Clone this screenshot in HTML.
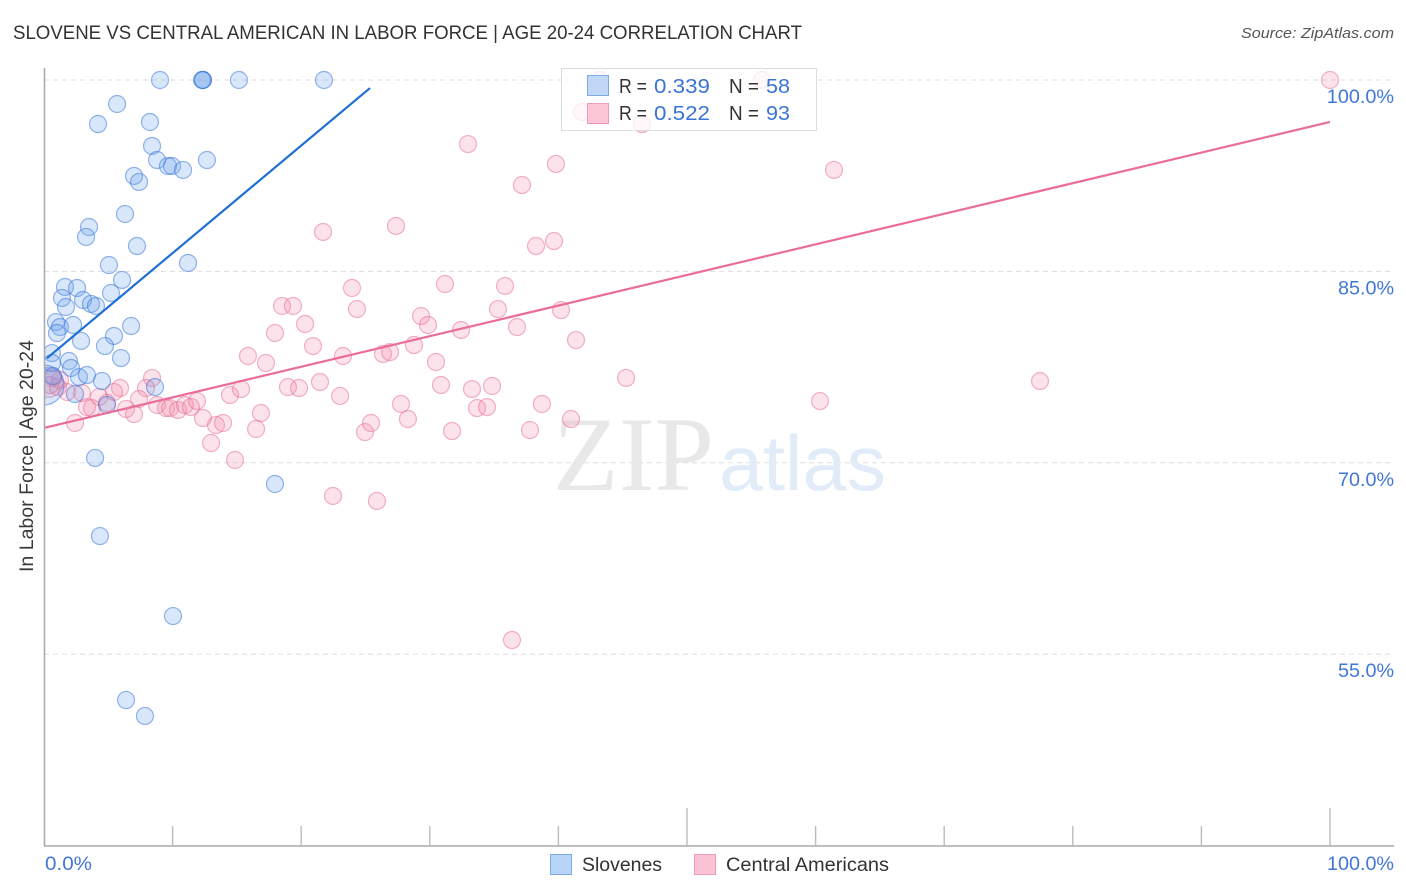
<!DOCTYPE html>
<html lang="en">
<head>
<meta charset="utf-8">
<title>Slovene vs Central American in Labor Force | Age 20-24 Correlation Chart</title>
<style>
html,body{margin:0;padding:0;background:#fff;width:1406px;height:892px;overflow:hidden}
svg{display:block;font-family:"Liberation Sans",sans-serif}
</style>
</head>
<body>
<svg id="chart" xmlns="http://www.w3.org/2000/svg" width="1406" height="892" viewBox="0 0 1406 892">
  <defs>
    <clipPath id="plot-clip"><rect x="45" y="0" width="1349" height="846"/></clipPath>
  </defs>
  <rect width="1406" height="892" fill="#ffffff"/>
  <text x="13" y="39" font-size="19.5" fill="#333333" textLength="789" lengthAdjust="spacingAndGlyphs">SLOVENE VS CENTRAL AMERICAN IN LABOR FORCE | AGE 20-24 CORRELATION CHART</text>
  <text x="1394" y="38" font-size="15" font-style="italic" fill="#555" text-anchor="end" textLength="153" lengthAdjust="spacingAndGlyphs">Source: ZipAtlas.com</text>
  <g id="grid"></g>
  <g>
    <text x="553" y="490" font-family="'Liberation Serif',serif" font-size="106" fill="#e8e8e8" textLength="161" lengthAdjust="spacingAndGlyphs">ZIP</text>
    <text x="719" y="490" font-size="78" fill="#e2ecf9" textLength="167" lengthAdjust="spacingAndGlyphs">atlas</text>
  </g>
  <g id="pink-points" clip-path="url(#plot-clip)"></g>
  <g id="blue-points" clip-path="url(#plot-clip)"></g>
  <g id="trends"></g>
  <g id="axes"></g>
  <text transform="translate(33,572) rotate(-90)" font-size="19" fill="#3a3a3a" textLength="232" lengthAdjust="spacingAndGlyphs">In Labor Force | Age 20-24</text>

  <g>
    <rect x="561.5" y="68.5" width="255" height="62" fill="#ffffff" fill-opacity="0.75" stroke="#dddddd" stroke-width="1"/>
    <rect x="587.5" y="75.5" width="21" height="20" fill="#b5d1f5" fill-opacity="0.85" stroke="#7eaae6"/>
    <rect x="587.5" y="103.5" width="21" height="20" fill="#fcc0d2" fill-opacity="0.9" stroke="#f09ab5"/>
    <g font-size="20.5">
      <text x="619" y="93" fill="#333333" textLength="28" lengthAdjust="spacingAndGlyphs">R =</text>
      <text x="654" y="93" fill="#3a74d4" textLength="56" lengthAdjust="spacingAndGlyphs">0.339</text>
      <text x="729" y="93" fill="#333333" textLength="30" lengthAdjust="spacingAndGlyphs">N =</text>
      <text x="766" y="93" fill="#3a74d4" textLength="24" lengthAdjust="spacingAndGlyphs">58</text>
      <text x="619" y="120" fill="#333333" textLength="28" lengthAdjust="spacingAndGlyphs">R =</text>
      <text x="654" y="120" fill="#3a74d4" textLength="56" lengthAdjust="spacingAndGlyphs">0.522</text>
      <text x="729" y="120" fill="#333333" textLength="30" lengthAdjust="spacingAndGlyphs">N =</text>
      <text x="766" y="120" fill="#3a74d4" textLength="24" lengthAdjust="spacingAndGlyphs">93</text>
    </g>
  </g>

  <g>
    <rect x="550.5" y="854.5" width="21" height="20" fill="#b8d5f7" stroke="#7eaae6"/>
    <text x="582" y="871" font-size="19.5" fill="#333333" textLength="80" lengthAdjust="spacingAndGlyphs">Slovenes</text>
    <rect x="694.5" y="854.5" width="21" height="20" fill="#fcc3d5" stroke="#f09ab5"/>
    <text x="726" y="871" font-size="19.5" fill="#333333" textLength="163" lengthAdjust="spacingAndGlyphs">Central Americans</text>
  </g>
</svg>
<script>
const xTickValues = [0, 10, 20, 30, 40, 50, 60, 70, 80, 90, 100];
const xMajorTickValues = [50, 100];
const yTickValues = [100, 85, 70, 55];
const yTickLabels = ["100.0%", "85.0%", "70.0%", "55.0%"];
const xEdgeLabels = ["0.0%", "100.0%"];

const slovenesX = [9.02,12.36,12.36,12.29,15.16,21.77,5.68,4.20,8.24,8.40,8.79,9.64,9.95,10.81,12.67,7.00,7.39,6.30,3.50,3.27,7.23,5.05,11.20,6.07,1.63,2.57,5.21,1.40,3.03,3.65,4.04,1.71,0.93,1.24,2.26,1.01,2.88,6.77,5.44,4.74,5.99,0.62,0.62,1.94,2.10,2.72,3.34,4.51,0.70,2.41,4.90,8.63,3.97,17.96,4.35,10.03,6.38,7.85];
const slovenesY = [100,100,100,100,100,100,98.12,96.55,96.71,94.83,93.73,93.26,93.26,92.95,93.73,92.48,92.01,89.50,88.48,87.70,86.99,85.50,85.66,84.33,83.78,83.70,83.31,82.92,82.76,82.45,82.29,82.21,81.03,80.64,80.80,80.17,79.55,80.72,79.94,79.15,78.21,78.60,77.82,77.98,77.43,76.72,76.88,76.41,76.80,75.39,74.53,75.94,70.38,68.34,64.26,57.99,51.41,50.16];
const slovenesClusterX = [0];
const slovenesClusterY = [76.1];

const centralX = [43.23,55.83,41.84,46.50,8.40,5.91,5.44,7.93,7.39,4.28,3.34,3.73,4.90,6.38,7.00,2.41,8.79,9.49,9.80,10.42,10.96,11.43,11.90,12.36,13.37,13.92,12.99,14.85,14.46,15.32,16.87,16.49,15.86,17.26,17.96,18.97,19.83,18.51,19.36,20.30,20.92,21.46,23.02,22.47,23.95,24.34,23.25,24.96,25.43,26.36,26.91,25.89,27.37,21.70,27.76,28.30,28.77,29.32,29.86,30.48,30.87,31.18,31.73,32.43,32.97,33.28,33.67,34.45,34.84,35.30,35.85,36.78,37.17,37.79,38.26,38.72,39.66,39.81,40.20,40.98,41.37,36.39,45.26,60.34,61.43,77.45,100,0.47,1.09,1.79,0.70,2.95,1.24];
const centralY = [100,100,97.49,96.55,76.65,75.86,75.55,75.86,75.00,75.16,74.37,74.29,74.69,74.22,73.82,73.12,74.53,74.29,74.29,74.14,74.53,74.37,74.84,73.51,72.96,73.12,71.55,70.22,75.31,75.78,73.90,72.65,78.37,77.82,80.17,75.94,75.86,82.29,82.29,80.88,79.15,76.33,75.24,67.40,83.70,82.05,78.37,72.41,73.12,78.53,78.68,67.01,88.56,88.09,74.61,73.43,79.23,81.50,80.80,77.90,76.10,84.01,72.49,80.41,94.98,75.78,74.29,74.37,76.02,82.05,83.86,80.64,91.77,72.57,86.99,74.61,87.38,93.42,81.97,73.43,79.62,56.11,76.65,74.84,92.95,76.41,100,76.10,75.94,75.55,76.65,75.47,76.49];
const centralClusterX = [0.3];
const centralClusterY = [76.3];

const slovenesTrendX = [0.23, 25.35];
const slovenesTrendY = [78.2, 99.37];
const centralTrendX = [0, 100];
const centralTrendY = [72.73, 96.71];

const NS = "http://www.w3.org/2000/svg";
function xScale(v) { return 44 + v * 12.86; }
function yScale(v) { return 80 + (100 - v) * 12.76; }
function make(tag, attrs, parent) {
  const el = document.createElementNS(NS, tag);
  for (const k in attrs) el.setAttribute(k, attrs[k]);
  parent.appendChild(el);
  return el;
}

const grid = document.getElementById("grid");
const axes = document.getElementById("axes");
const pinkG = document.getElementById("pink-points");
const blueG = document.getElementById("blue-points");
const trends = document.getElementById("trends");

yTickValues.forEach(function (v, i) {
  const line = make("line", {x1: 44, x2: 1394, y1: yScale(v), y2: yScale(v), stroke: "#dedede", "stroke-width": 1, "stroke-dasharray": "5 4"}, grid);
  
  
  const label = make("text", {x: 1394, y: yScale(v) + 23, "font-size": 19, fill: "#4077d6", "text-anchor": "end", textLength: yTickLabels[i].length * 11.2, lengthAdjust: "spacingAndGlyphs"}, axes);
  
  
  label.textContent = yTickLabels[i];
});

const yAxis = make("line", {x1: 44.5, x2: 44.5, y1: 68, y2: 846, stroke: "#aaaaaa", "stroke-width": 1.6}, axes);


const xAxis = make("line", {x1: 44, x2: 1394, y1: 846, y2: 846, stroke: "#aaaaaa", "stroke-width": 1.6}, axes);



xTickValues.slice(1).forEach(function (v) {
  const top = xMajorTickValues.indexOf(v) >= 0 ? 808 : 826;
  const tick = make("line", {x1: xScale(v), x2: xScale(v), y1: top, y2: 846, stroke: "#bbbbbb", "stroke-width": 1.4}, axes);
  
  
});

const x0Label = make("text", {x: 45, y: 870, "font-size": 19, fill: "#4077d6", textLength: 47, lengthAdjust: "spacingAndGlyphs"}, axes);


x0Label.textContent = xEdgeLabels[0];
const x1Label = make("text", {x: 1394, y: 870, "font-size": 19, fill: "#4077d6", "text-anchor": "end", textLength: 67, lengthAdjust: "spacingAndGlyphs"}, axes);


x1Label.textContent = xEdgeLabels[1];

const pinkStyle = {fill: "rgba(243,140,172,0.25)", stroke: "rgba(230,105,145,0.5)", "stroke-width": 1.2};
const blueStyle = {fill: "rgba(105,160,235,0.25)", stroke: "rgba(45,110,215,0.5)", "stroke-width": 1.2};

function dot(group, x, y, r, style) {
  const attrs = {cx: xScale(x), cy: yScale(y), r: r};
  for (const k in style) attrs[k] = style[k];
  return make("circle", attrs, group);
}

centralClusterX.forEach(function (x, i) {
  const c = dot(pinkG, x, centralClusterY[i], 15, pinkStyle);
  
  
});
centralX.forEach(function (x, i) {
  const c = dot(pinkG, x, centralY[i], 8.5, pinkStyle);
  
  
});
slovenesClusterX.forEach(function (x, i) {
  const c = dot(blueG, x, slovenesClusterY[i], 20, blueStyle);
  
  
});
slovenesX.forEach(function (x, i) {
  const c = dot(blueG, x, slovenesY[i], 8.5, blueStyle);
  
  
});

const blueLine = make("line", {x1: xScale(slovenesTrendX[0]), y1: yScale(slovenesTrendY[0]), x2: xScale(slovenesTrendX[1]), y2: yScale(slovenesTrendY[1]), stroke: "#1f6fd6", "stroke-width": 2.2}, trends);


const pinkLine = make("line", {x1: xScale(centralTrendX[0]), y1: yScale(centralTrendY[0]), x2: xScale(centralTrendX[1]), y2: yScale(centralTrendY[1]), stroke: "#ea6c9b", "stroke-width": 2.2}, trends);


</script>
</body>
</html>
